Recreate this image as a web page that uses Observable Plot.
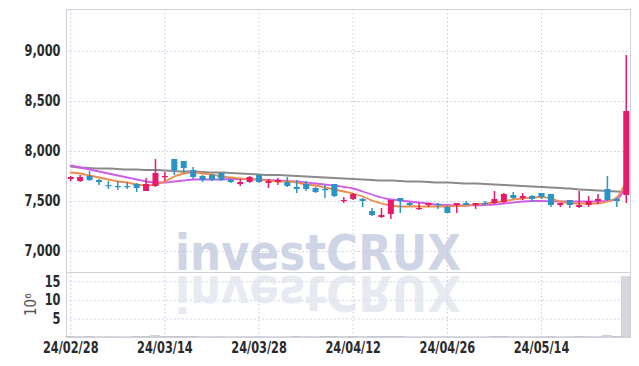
<!DOCTYPE html>
<html>
<head>
<meta charset="utf-8">
<script src="https://cdn.jsdelivr.net/npm/d3@7"></script>
<script src="https://cdn.jsdelivr.net/npm/@observablehq/plot@0.6"></script>
<style>
  html, body { margin: 0; padding: 0; background: #fff; }
  #chart { position: relative; width: 639px; height: 366px; overflow: hidden; }
  #chart > svg { display: block; }
  #wm { position: absolute; left: 0; top: 0; pointer-events: none; }
</style>
</head>
<body>
<div id="chart"></div>
<script>
// ---- data ----
const dates = ["24/02/28","24/02/29","24/03/04","24/03/05","24/03/06","24/03/07","24/03/08","24/03/11","24/03/12","24/03/13",
  "24/03/14","24/03/15","24/03/18","24/03/19","24/03/20","24/03/21","24/03/22","24/03/25","24/03/26","24/03/27",
  "24/03/28","24/03/29","24/04/01","24/04/02","24/04/03","24/04/04","24/04/05","24/04/08","24/04/09","24/04/11",
  "24/04/12","24/04/15","24/04/16","24/04/17","24/04/18","24/04/19","24/04/22","24/04/23","24/04/24","24/04/25",
  "24/04/26","24/04/29","24/04/30","24/05/02","24/05/03","24/05/07","24/05/08","24/05/09","24/05/10","24/05/13",
  "24/05/14","24/05/16","24/05/17","24/05/20","24/05/21","24/05/22","24/05/23","24/05/24","24/05/27","24/05/28"];
const open  = [7720,7700,7750,7710,7660,7650,7650,7670,7600,7650, 7740,7920,7900,7810,7750,7760,7780,7710,7670,7690,
  7760,7680,7690,7690,7640,7670,7630,7620,7670,7500, 7520,7520,7400,7340,7370,7530,7480,7420,7460,7470,
  7440,7460,7480,7460,7480,7480,7490,7560,7530,7550, 7580,7570,7460,7510,7440,7460,7500,7620,7520,7560];
const high  = [7750,7760,7800,7720,7700,7700,7690,7680,7730,7920, 7790,7920,7900,7840,7760,7770,7780,7720,7720,7750,
  7760,7720,7730,7740,7710,7700,7640,7660,7670,7540, 7580,7530,7430,7430,7510,7530,7490,7480,7480,7480,
  7450,7480,7500,7480,7500,7600,7580,7590,7580,7560, 7580,7570,7480,7510,7600,7550,7570,7750,7530,8960];
const low   = [7700,7690,7700,7660,7620,7610,7620,7590,7600,7640, 7700,7760,7780,7720,7690,7700,7700,7680,7650,7680,
  7680,7630,7660,7640,7580,7600,7580,7530,7540,7480, 7510,7440,7350,7330,7320,7380,7450,7410,7440,7420,
  7380,7380,7460,7420,7460,7470,7480,7520,7510,7490, 7520,7440,7440,7430,7430,7440,7470,7500,7440,7480];
const close = [7740,7740,7710,7690,7650,7640,7640,7630,7670,7780, 7750,7810,7830,7740,7710,7710,7710,7690,7690,7740,
  7690,7700,7710,7650,7620,7620,7590,7610,7550,7510, 7570,7500,7360,7360,7510,7500,7460,7430,7480,7460,
  7380,7480,7460,7480,7470,7520,7570,7530,7550,7520, 7540,7460,7480,7460,7460,7500,7520,7510,7500,8400];
const volume = [0.10,0.08,0.10,0.07,0.08,0.07,0.06,0.09,0.12,0.40, 0.12,0.14,0.10,0.09,0.08,0.07,0.08,0.06,0.07,0.08,
  0.08,0.07,0.06,0.08,0.09,0.08,0.07,0.10,0.12,0.08, 0.09,0.08,0.12,0.10,0.14,0.10,0.07,0.06,0.07,0.06,
  0.08,0.07,0.05,0.06,0.05,0.09,0.10,0.08,0.07,0.06, 0.07,0.09,0.06,0.07,0.10,0.08,0.07,0.45,0.10,16.2];
const ma5  = [7790,7780,7760,7740,7720,7700,7690,7670,7660,7670, 7700,7750,7780,7790,7780,7770,7750,7740,7730,7720,
  7720,7710,7700,7700,7690,7670,7660,7640,7620,7600, 7580,7550,7510,7480,7460,7450,7450,7450,7450,7450,
  7450,7455,7460,7470,7480,7490,7500,7520,7530,7540, 7545,7530,7500,7485,7480,7480,7480,7500,7540,7700];
const ma20 = [7860,7840,7820,7800,7780,7760,7740,7720,7700,7690, 7690,7700,7710,7720,7720,7720,7720,7725,7725,7725,
  7720,7715,7710,7705,7700,7690,7680,7670,7660,7645, 7630,7600,7570,7540,7520,7510,7500,7490,7480,7470,
  7465,7460,7460,7462,7465,7470,7480,7490,7500,7505, 7505,7502,7500,7500,7500,7500,7500,7505,7520,7660];
const ma60 = [7850,7840,7835,7830,7830,7825,7820,7820,7815,7815, 7810,7805,7800,7800,7795,7790,7790,7785,7780,7775,
  7770,7765,7765,7760,7755,7750,7745,7740,7735,7730, 7725,7720,7715,7710,7710,7705,7700,7700,7695,7690,
  7690,7685,7680,7680,7675,7670,7665,7660,7655,7650, 7645,7640,7635,7630,7620,7615,7610,7605,7600,7595];
const priceTicks = [7000, 7500, 8000, 8500, 9000];
const volumeTicks = [5, 10, 15];
const dateTickIdx = [0, 10, 20, 30, 40, 50];
const volumeLabel = "10⁶";
const watermark = "investCRUX";

// ---- pick an installed condensed face ----
function hasFont(name) {
  const c = document.createElement("canvas").getContext("2d");
  const s = "24/02/28 9,000 mmmwwwiii";
  c.font = "40px monospace"; const a = c.measureText(s).width;
  c.font = `40px "${name}", monospace`; const b = c.measureText(s).width;
  c.font = "40px serif"; const a2 = c.measureText(s).width;
  c.font = `40px "${name}", serif`; const b2 = c.measureText(s).width;
  return a !== b || a2 !== b2;
}
const candidates = ["Liberation Sans Narrow", "DejaVu Sans Condensed", "Roboto Condensed", "Liberation Sans"];
const face = candidates.find(hasFont) || "sans-serif";
const FONT = `"${face}", sans-serif`;

// ---- styling ----
const RED = "#e8196b", BLUE = "#2a93c7", ORANGE = "#f08a4b", VIOLET = "#cf5ce8", GRAY = "#8a8a8a";
const GRID = "#c3c6d9", FRAME = "#cfd0d8";
const xDomain = [-0.45, dates.length - 1 + 0.45];
const idx = d3.range(dates.length);
const up = idx.filter(i => close[i] >= open[i]);
const down = idx.filter(i => close[i] < open[i]);
const minBody = 12;
const bodyTop = i => Math.max(open[i], close[i]);
const bodyBot = i => Math.min(open[i], close[i]) - (Math.abs(close[i] - open[i]) < minBody ? minBody - Math.abs(close[i] - open[i]) : 0);

const baseStyle = {fontFamily: FONT, fontSize: "15px", fontWeight: "bold", color: "#2a2a2a", background: "transparent", overflow: "visible"};

const price = Plot.plot({
  width: 639, height: 272,
  marginTop: 9, marginLeft: 66, marginRight: 9, marginBottom: 0,
  style: baseStyle,
  x: {domain: xDomain, axis: null},
  y: {domain: [6790, 9420], ticks: priceTicks, tickFormat: d3.format(","), tickSize: 0, tickPadding: 6, label: null},
  marks: [
    Plot.ruleY(priceTicks, {stroke: GRID, strokeDasharray: "1.5,2.5", strokeWidth: 1}),
    Plot.ruleX(dateTickIdx, {stroke: GRID, strokeDasharray: "1.5,2.5", strokeWidth: 1}),
    Plot.frame({stroke: FRAME}),
    Plot.line(idx, {x: i => i, y: i => ma60[i], stroke: GRAY, strokeWidth: 2, curve: "monotone-x"}),
    Plot.line(idx, {x: i => i, y: i => ma20[i], stroke: VIOLET, strokeWidth: 1.8, curve: "monotone-x"}),
    Plot.line(idx, {x: i => i, y: i => ma5[i], stroke: ORANGE, strokeWidth: 1.8, curve: "monotone-x"}),
    Plot.ruleX(up, {x: i => i, y1: i => low[i], y2: i => high[i], stroke: RED, strokeWidth: 1.5}),
    Plot.ruleX(down, {x: i => i, y1: i => low[i], y2: i => high[i], stroke: BLUE, strokeWidth: 1.5}),
    Plot.ruleX(up, {x: i => i, y1: bodyBot, y2: bodyTop, stroke: RED, strokeWidth: 6}),
    Plot.ruleX(down, {x: i => i, y1: bodyBot, y2: bodyTop, stroke: BLUE, strokeWidth: 6})
  ]
});

const vol = Plot.plot({
  width: 639, height: 94,
  marginTop: 0, marginLeft: 66, marginRight: 9, marginBottom: 29,
  style: baseStyle,
  x: {domain: xDomain, ticks: dateTickIdx, tickFormat: i => dates[i], tickSize: 0, tickPadding: 5, label: null},
  y: {domain: [0, 17.5], ticks: volumeTicks, tickSize: 0, tickPadding: 6, label: null},
  marks: [
    Plot.ruleY(volumeTicks, {stroke: GRID, strokeDasharray: "1.5,2.5", strokeWidth: 1}),
    Plot.ruleX(dateTickIdx, {stroke: GRID, strokeDasharray: "1.5,2.5", strokeWidth: 1}),
    Plot.rectY(idx, {x1: i => i - 0.47, x2: i => i + 0.47, y1: 0, y2: i => volume[i], fill: "#d7d7df", stroke: "#c2c2cc", strokeWidth: 0.6}),
    Plot.frame({stroke: FRAME}),
    Plot.text([volumeLabel], {text: d => d, frameAnchor: "left", dx: -35, dy: 11, rotate: -90, fill: "#555", fontWeight: "normal", fontSize: 15})
  ]
});

const chart = document.getElementById("chart");
chart.appendChild(price);
chart.appendChild(vol);

// emulate the condensed axis face: squeeze tick labels horizontally
const squeeze = 0.84;
for (const svg of [price, vol]) {
  d3.select(svg).selectAll("g[aria-label$='axis'] text, g[aria-label$='tick label'] text").each(function () {
    const w = this.getComputedTextLength();
    if (w > 0) {
      this.setAttribute("textLength", (w * squeeze).toFixed(1));
      this.setAttribute("lengthAdjust", "spacingAndGlyphs");
    }
  });
}

// watermark (real text) on an overlay
const wm = d3.select(chart).append("svg")
  .attr("id", "wm").attr("width", 639).attr("height", 366);
wm.append("text")
  .attr("x", 175).attr("y", 270)
  .attr("textLength", 286).attr("lengthAdjust", "spacingAndGlyphs")
  .attr("font-family", '"DejaVu Sans", sans-serif').attr("font-weight", "bold").attr("font-size", 50)
  .attr("fill", "#c3cae0").attr("fill-opacity", 0.8)
  .text(watermark);
wm.append("text")
  .attr("x", 175).attr("y", 270)
  .attr("transform", "translate(0,546) scale(1,-1)")
  .attr("textLength", 286).attr("lengthAdjust", "spacingAndGlyphs")
  .attr("font-family", '"DejaVu Sans", sans-serif').attr("font-weight", "bold").attr("font-size", 50)
  .attr("fill", "#e2e5ef").attr("fill-opacity", 0.8)
  .text(watermark);
</script>
</body>
</html>
